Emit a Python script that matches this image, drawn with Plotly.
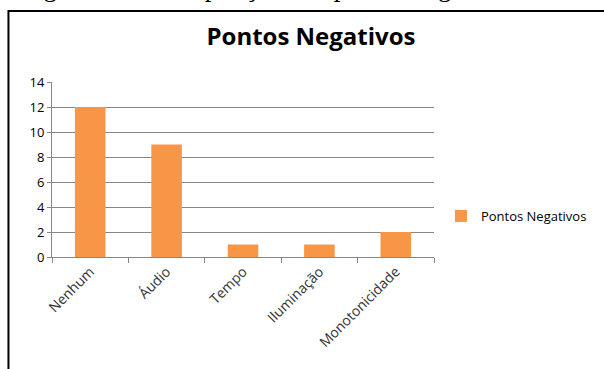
import plotly.graph_objects as go

# Chart data
categories = ["Nenhum", "Áudio", "Tempo", "Iluminação", "Monotonicidade"]
values = [12, 9, 1, 1, 2]
series_name = "Pontos Negativos"
y_ticks = [0, 2, 4, 6, 8, 10, 12, 14]

W, H = 604, 369
L, R, T, B = 52, 166, 82, 112
plot_w = W - L - R
plot_h = H - T - B


def px_x(x):
    return (x - L) / plot_w


def px_y(y):
    return (H - B - y) / plot_h


bar_color = "#F79646"
grid_color = "#878787"
text_color = "#333333"
sans = "Open Sans"

fig = go.Figure(
    go.Bar(
        x=categories,
        y=values,
        name=series_name,
        marker=dict(color=bar_color, line=dict(width=0)),
        width=0.4,
        showlegend=True,
    )
)

fig.update_layout(
    width=W,
    height=H,
    margin=dict(l=L, r=R, t=T, b=B, pad=0),
    paper_bgcolor="white",
    plot_bgcolor="white",
    font=dict(family=sans, size=13, color=text_color),
    title=dict(
        text="<b>Pontos Negativos</b>",
        xref="container",
        yref="container",
        x=311 / W,
        xanchor="center",
        y=1 - 37 / H,
        yanchor="middle",
        font=dict(family=sans, size=24, color="#000000"),
    ),
    showlegend=True,
    legend=dict(
        x=px_x(445),
        y=px_y(216),
        xanchor="left",
        yanchor="middle",
        font=dict(family=sans, size=13, color="#000000"),
        bgcolor="rgba(0,0,0,0)",
        itemwidth=30,
    ),
    xaxis=dict(
        type="category",
        tickangle=-45,
        tickson="boundaries",
        ticks="outside",
        ticklen=5,
        tickcolor=grid_color,
        showline=True,
        linecolor=grid_color,
        linewidth=1,
        showgrid=False,
        tickfont=dict(family=sans, size=14, color=text_color),
    ),
    yaxis=dict(
        range=[0, 14],
        tickvals=y_ticks,
        ticks="outside",
        ticklen=4,
        tickcolor=grid_color,
        showline=True,
        linecolor=grid_color,
        linewidth=1,
        showgrid=True,
        gridcolor=grid_color,
        gridwidth=1,
        zeroline=False,
        tickfont=dict(family=sans, size=13, color="#000000"),
    ),
    shapes=[
        dict(
            type="rect",
            xref="paper",
            yref="paper",
            x0=px_x(8),
            x1=px_x(640),
            y0=px_y(400),
            y1=px_y(11),
            line=dict(color="#000000", width=2),
            fillcolor="rgba(0,0,0,0)",
            layer="below",
        )
    ],
    annotations=[
        dict(
            text="Figura 75 – Compilação dos pontos negativos do vídeo",
            xref="paper",
            yref="paper",
            x=px_x(19),
            y=px_y(4),
            xanchor="left",
            yanchor="bottom",
            showarrow=False,
            font=dict(family="Liberation Serif", size=27, color="#000000"),
        )
    ],
)

fig.write_html("out.html")
